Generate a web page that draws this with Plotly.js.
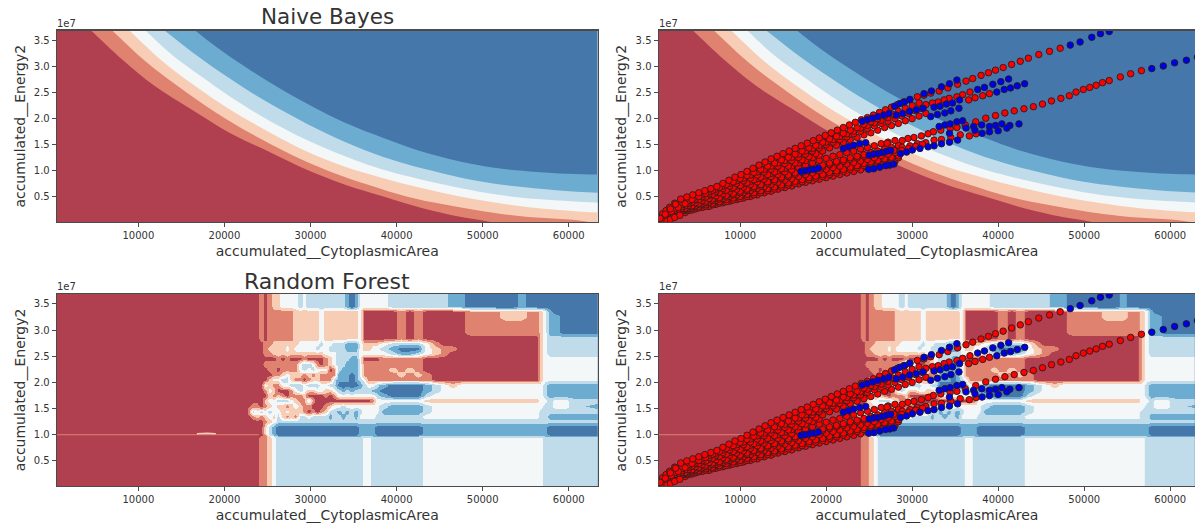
<!DOCTYPE html>
<html><head><meta charset="utf-8">
<script src="https://cdn.plot.ly/plotly-3.0.1.min.js"></script>
<style>html,body{margin:0;padding:0;background:#fff;overflow:hidden}</style>
</head><body><div id="chart" style="width:1195px;height:526px"></div>
<script>
const xTitle='accumulated__CytoplasmicArea', yTitle='accumulated__Energy2';
const xTicks=[10000,20000,30000,40000,50000,60000], yTicks=[0.5,1,1.5,2,2.5,3,3.5];
const bandColors=['#B03F50','#E08270','#F8CDB6','#F4F7F7','#C0DCEB','#6DACD1','#4577AB'];

// Naive Bayes band boundaries (y in units of 1e7)
const b1x=[14940,16670,19340,22450,26010,29570,34020,38470,42920,47360,51810,56260,59820,63500,70000,110000];
const b1y=[3.9,3.68,3.34,2.99,2.62,2.29,1.92,1.63,1.37,1.18,1.05,0.98,0.945,0.93,0.92,0.92];
const b2x=[11390,13110,16230,19790,23340,27350,31800,36240,40690,45140,49590,54030,58480,63500,70000,110000];
const b2y=[3.9,3.68,3.28,2.86,2.48,2.10,1.72,1.40,1.15,0.96,0.80,0.70,0.63,0.58,0.55,0.55];
const b3x=[9430,10890,14000,17120,20680,25120,29570,34020,38470,42920,47360,51810,56260,63500,70000,110000];
const b3y=[3.9,3.68,3.21,2.83,2.42,1.97,1.59,1.28,1.02,0.83,0.67,0.54,0.46,0.39,0.36,0.36];
const b4x=[7590,9020,12670,16230,20680,25120,29570,34020,38470,42920,47360,51810,56260,63500,70000,110000];
const b4y=[3.9,3.68,3.12,2.67,2.17,1.75,1.37,1.08,0.86,0.67,0.51,0.385,0.29,0.20,0.16,0.16];
const b5x=[5580,7020,10890,14450,18900,23340,27790,32240,36690,41140,45590,50030,54480,61820,66000,80000,110000];
const b5y=[3.9,3.68,3.09,2.64,2.13,1.69,1.31,0.99,0.735,0.51,0.354,0.226,0.13,0.036,-0.1,-0.4,-0.4];
const b6x=[3140,4570,8220,11780,16230,20680,25120,29570,34020,38470,42920,47360,50480,54000,60000,80000,110000];
const b6y=[3.9,3.68,3.12,2.64,2.17,1.72,1.37,1.02,0.735,0.51,0.29,0.12,0.036,-0.08,-0.3,-0.8,-0.8];

// Random Forest class-probability grid (top row first); digit = band index
const rfX=[550,22000,23000,23500,24000,24500,25000,25500,26000,26500,27000,27500,28000,28500,29000,29500,30000,30500,31000,31500,32000,32500,33000,33500,34000,34500,35000,35500,36000,36500,37000,37500,38000,39000,40000,41000,42000,43000,44000,45000,46000,47000,48000,49000,50000,51000,52000,53000,54000,55000,56000,56500,57000,57500,58000,59000,60000,61000,62000,66000];
const rfY=[3.8,3.6,3.5,3.4,3.3,3.2,3.1,3.0,2.9,2.8,2.7,2.6,2.5,2.4,2.3,2.2,2.1,2.0,1.9,1.8,1.7,1.6,1.5,1.4,1.3,1.2,1.1,1.05,1.0,0.97,0.9,-0.1];
const rfRows=[
'00 0010122333 3434444444 4456533333 344444445 566666656 6666 66666',
'00 0010122333 3434444444 4456533333 344444445 566666656 6666 66666',
'00 0010122333 3434444444 4456533333 344444445 566666656 6666 66666',
'00 0010111111 2222223222 2222230000 001010000 011112221 1235 66666',
'00 0010111111 2222223222 2222230000 001010000 011112221 1235 56666',
'00 0010111111 2222223222 2222230000 001010000 011111111 1235 56666',
'00 0010111111 2222223222 2222230000 001010000 011111111 1235 56666',
'00 0010111111 2222223222 2222230000 001010000 011111111 1235 56666',
'00 0010111111 2222223222 2222230000 001010000 000000000 0234 44444',
'00 0001122222 2333334334 4455532222 344443100 000000000 0234 44444',
'00 0001222232 3333343344 4455532233 456663211 000000000 0234 44444',
'00 0001122222 2222222333 4444433333 345543210 000000000 0234 44444',
'00 0000001010 0010000123 4445530000 111110000 000000000 0233 33333',
'00 0001111111 1344310123 4455531111 111110000 000000000 0233 33333',
'00 0000110111 1343433301 4555531111 121210000 000000000 0233 33333',
'00 0000011232 2212121111 5556531111 112121000 000000000 0233 33333',
'00 0000233442 1101221114 5556543111 111111000 000000000 0233 33333',
'00 0003211334 4434443344 6666654334 566665432 333333333 3345 55555',
'00 0001320001 3432233223 4545444455 666665433 333333333 3345 55555',
'00 0000212101 1120000101 3333333334 566664333 333333333 3345 55555',
'00 0002334443 2114100000 0000000013 333332222 222222222 2334 33444',
'00 1101232212 3211000123 3433333333 455554333 333333333 3344 33445',
'00 4343433232 2210101244 5454543333 555554333 333333333 3444 44444',
'00 1212324212 1443444454 4544533334 444443333 333333333 3445 55555',
'00 0001234444 4444444444 4444444444 444444444 444444444 4444 44444',
'00 0002456666 6666666666 6666655556 666665555 555555555 5556 66666',
'00 0002456666 6666666666 6666655556 666665555 555555555 5556 66666',
'00 0002456666 6666666666 6666655556 666665555 555555555 5556 66666',
'00 0000345555 5555555555 5555555555 555555555 555555555 5555 55555',
'00 0011234444 4444444444 4444443344 444443333 333333333 3344 44444',
'00 0011234444 4444444444 4444443344 444443333 333333333 3344 44444'
];
const speckX=[16800,18000,19000], speckY=[1.02,1.03,1.02];
const rfLineX=[550,24000], rfLineY=[1.0,1.0];

// Data points: fan strands (y in units of 1e7)
const fanXa=[800,1600,2400,3200,4000,4800,5600,6400,7200,8000,8800,9600,10400,11200,12000,12800,13600,14400,15200,16000,16800,17600,18400,19200,20000,20800,21600,22400,23200,24000,24800,25600,26400,27200,28000];
const fanXb=[1200,2000,2800,3600,4400,5200,6000,6800,7600,8400,9200,10000,10800,11600,12400,13200,14000,14800,15600,16400,17200,18000,18800,19600,20400,21200,22000,22800,23600,24400,25200,26000,26800,27600,28400];
const fanXc=[800,1600,2400,3200,4000,4800,5600,6400,7200,8000,8800,9600,10400,11200,12000,12800,13600,14400,15200,16000,16800,17600,18400,19200];
const t2y=[.14,.22,.30,.37,.45,.51,.57,.63,.68,.74,.79,.85,.91,.97,1.03,1.09,1.15,1.21,1.26,1.32,1.38,1.44,1.49,1.55,1.61,1.66,1.72,1.78,1.83,1.89,1.94,2.0,2.05,2.09,2.14];
const t3y=[.09,.16,.24,.31,.39,.46,.51,.56,.61,.66,.71,.76,.81,.86,.92,.98,1.03,1.09,1.14,1.2,1.26,1.32,1.38,1.44,1.50,1.55,1.6,1.65,1.71,1.76,1.81,1.86,1.91,1.95,2.0];
const t4y=[.12,.19,.26,.33,.40,.45,.5,.55,.59,.63,.68,.72,.77,.83,.88,.93,.98,1.04,1.09,1.15,1.21,1.27,1.33,1.38,1.44,1.49,1.54,1.59,1.64,1.69,1.73,1.78,1.83,1.87,1.91];
const t5y=[.08,.15,.21,.28,.34,.39,.43,.47,.52,.56,.61,.65,.69,.74,.79,.84,.89,.93,.98,1.02,1.07,1.11,1.15,1.20,1.24,1.28,1.31,1.35,1.38,1.42,1.45,1.48,1.52,1.55,1.58];
const t6y=[.10,.16,.22,.28,.33,.38,.42,.46,.49,.53,.57,.61,.65,.70,.74,.79,.83,.88,.92,.96,1.0,1.04,1.07,1.11,1.15,1.18,1.21,1.25,1.28,1.31,1.35,1.38,1.42,1.45,1.49];
const t7y=[.07,.13,.18,.24,.29,.33,.37,.40,.44,.47,.51,.54,.58,.62,.66,.7,.74,.78,.82,.85,.89,.93,.96,1.0,1.03,1.06,1.09,1.13,1.16,1.19,1.22,1.25,1.29,1.32,1.35];
const t8y=[.08,.13,.19,.24,.28,.32,.35,.38,.41,.45,.48,.51,.55,.58,.62,.66,.69,.73,.77,.8,.83,.87,.9,.93,.97,1.0,1.03,1.07,1.1,1.14,1.17,1.2,1.23,1.26,1.29];
const t9y=[.06,.1,.15,.2,.24,.27,.3,.32,.36,.39,.42,.45,.48,.51,.54,.58,.61,.65,.68,.71,.75,.78,.81,.84,.87,.9,.93,.96,.99,1.02,1.05,1.08,1.12,1.15,1.18];
const tAy=[.11,.19,.27,.35,.43,.50,.55,.60,.65,.71,.76,.81,.86,.92,.98,1.03,1.09,1.15,1.20,1.26,1.32,1.38,1.43,1.49,1.55,1.60,1.66,1.71,1.76,1.82,1.87,1.92,1.97,2.02,2.07];
const tBy=[.10,.18,.25,.32,.38,.44,.48,.53,.58,.62,.66,.71,.75,.8,.85,.9,.95,1.0,1.05,1.1,1.15,1.2,1.25,1.3];
const tCy=[.08,.14,.20,.26,.31,.36,.39,.43,.46,.5,.54,.58,.62,.67,.71,.76,.8,.85,.89,.93,.97,1.01,1.04,1.08,1.12,1.15,1.18,1.22,1.25,1.28,1.32,1.35,1.39,1.42,1.46];
const tDy=[.05,.1,.16,.2,.25,.29,.32,.35,.38,.41,.44,.47,.51,.54,.58,.62,.65,.69,.73,.76,.79,.83,.86,.89,.93,.96,.99,1.03,1.06,1.1,1.13,1.16,1.19,1.22,1.25];
const topEdgeX=[700,1300,1900,2500,3100,3800,4500,5200,5900,6600,7300,8000,8700,9400,10100,10800,11500,12200,12900,13600,14300,15000,15700,16400,17100,17800,18500,19200,19900,20600,21300,22000,22700,23400,24100,24800,25500,26200,26900,27600,28300,29000,29730,30600,31380,32160,33140,34150,35280,36260,37040,38010,38870,39690,40580,41560,42570,43510,44720,45970,47210];
const topEdgeY=[.09,.17,.27,.36,.46,.50,.54,.58,.62,.66,.70,.76,.82,.88,.93,.99,1.05,1.11,1.17,1.23,1.28,1.33,1.38,1.43,1.48,1.53,1.58,1.63,1.68,1.73,1.78,1.83,1.88,1.93,1.98,2.02,2.07,2.12,2.17,2.22,2.27,2.32,2.36,2.42,2.45,2.49,2.53,2.59,2.66,2.72,2.77,2.83,2.88,2.93,2.98,3.04,3.10,3.16,3.23,3.29,3.35];
const originX=[650,650,1100,1500,1900,2400,3000,1000,1400,1800,2400];
const originY=[.04,.12,.03,.04,.07,.11,.15,.18,.24,.30,.38];
const longRedX=[37390,38560,39690,40780,41870,43000,44090,45150,46200,47290,48270,49050,49900,50650,51390,52130,52910,54200,55400,56650];
const longRedY=[1.94,2.01,2.06,2.11,2.15,2.19,2.23,2.28,2.34,2.39,2.44,2.51,2.56,2.60,2.64,2.69,2.73,2.80,2.86,2.92];
const upperRedX=[38990,38200,37310,36570,36720,35870,35200,34300,33720,33020,32360,29200,30000,30800,31600,28800,29600,30400,31200,29200,30000,30800,31600];
const upperRedY=[2.48,2.44,2.40,2.36,2.51,2.46,2.42,2.39,2.36,2.32,2.30,2.20,2.25,2.30,2.27,2.05,2.10,2.15,2.19,1.96,2.00,2.05,2.10];
const lowerRedX=[37430,36650,36180,35200,34420,33330,32470,31850,31070,30210,29510,28850,35590,34500,33410,32550,31580,30600,29740,28850,27870,27090,28800,29600,30400,31200];
const lowerRedY=[1.71,1.67,1.88,1.83,1.81,1.78,1.75,1.71,1.67,1.64,1.62,1.58,1.69,1.64,1.60,1.59,1.54,1.52,1.48,1.45,1.39,1.53,1.39,1.43,1.47,1.51];
const blueX=[48380,49520,50880,51890,52910,57860,59190,60510,61880,63170,
43080,42220,41440,40700,39840,41210,40310,39380,38400,37620,
35510,34700,33990,33250,32550,32160,32940,33800,34500,35440,
35200,34340,33410,32240,31380,29740,29120,28570,27950,
42420,41360,41010,40430,39690,38990,40000,38990,38130,38090,37150,37310,
35870,35200,34420,33800,33140,36260,34340,35280,34340,33410,32550,31850,30910,30020,29350,28650,
27870,27400,26900,26230,25530,24950,
17100,17600,18100,18600,19100,25000,25500,26000,26500,27000,27500,
22000,22600,23200,23900,24600,24200,24800,25400,26000,26700,27300,28170,28900,29700,30500,31280];
const blueY=[3.41,3.47,3.56,3.63,3.67,2.96,3.01,3.07,3.12,3.18,
2.67,2.63,2.59,2.56,2.51,2.76,2.71,2.66,2.60,2.56,
2.36,2.30,2.28,2.24,2.22,2.04,2.08,2.11,2.15,2.20,
2.74,2.67,2.61,2.53,2.48,2.37,2.32,2.29,2.24,
1.90,1.87,1.82,1.90,1.87,1.85,1.77,1.75,1.72,1.88,1.85,1.78,
1.96,1.94,1.90,1.88,1.85,1.82,1.72,1.59,1.55,1.52,1.48,1.46,1.43,1.40,1.36,1.33,
1.13,1.11,1.10,1.07,1.04,1.03,
.99,1.00,1.02,1.03,1.05,1.30,1.32,1.33,1.35,1.37,1.39,
1.43,1.46,1.49,1.52,1.54,1.95,1.98,2.01,2.04,2.07,2.10,2.07,2.10,2.14,2.17,2.20];

const redX=[].concat(fanXa,fanXb,fanXb,fanXa,fanXb,fanXb,fanXa,fanXc,fanXb,fanXa,fanXa,fanXb,originX,topEdgeX,longRedX,upperRedX,lowerRedX);
const redY=[].concat(t9y,tDy,t8y,t7y,tCy,t6y,t5y,tBy,t4y,t3y,tAy,t2y,originY,topEdgeY,longRedY,upperRedY,lowerRedY);

const xRangeL=[550,63350], xRangeR=[550,62880], yRange=[0.02,3.69];
const bands=[[b1x,b1y,5],[b2x,b2y,4],[b3x,b3y,3],[b4x,b4y,2],[b5x,b5y,1],[b6x,b6y,0]];
const digits=rfRows.map(r=>r.replace(/ /g,'').split('').map(Number));
const zAsc=digits.slice().reverse();
const yAsc=rfY.slice().reverse();
const stepped=[];
bandColors.forEach((c,i)=>{stepped.push([i/7,c]);stepped.push([(i+1)/7,c]);});

const traces=[];
function nb(xa,ya){
  bands.forEach(([bx,by,c])=>{
    traces.push({type:'scatter',mode:'lines',xaxis:xa,yaxis:ya,hoverinfo:'skip',showlegend:false,
      x:[...bx,110000,-30000,-30000],y:[...by,-5,-5,by[0]],
      fill:'toself',fillcolor:bandColors[c],line:{width:0,shape:'spline',smoothing:1,color:bandColors[c]}});
  });
}
function rf(xa,ya){
  traces.push({type:'heatmap',xaxis:xa,yaxis:ya,x:rfX,y:yAsc,z:zAsc,zmin:-0.5,zmax:6.5,zsmooth:'best',
    colorscale:stepped,showscale:false,hoverinfo:'skip'});
  traces.push({type:'scatter',mode:'lines',xaxis:xa,yaxis:ya,x:rfLineX,y:rfLineY,hoverinfo:'skip',showlegend:false,
    line:{color:bandColors[1],width:1}});
  traces.push({type:'scatter',mode:'lines',xaxis:xa,yaxis:ya,x:speckX,y:speckY,hoverinfo:'skip',showlegend:false,
    line:{color:bandColors[2],width:1.5}});
}
function pts(xa,ya){
  traces.push({type:'scatter',mode:'markers',xaxis:xa,yaxis:ya,x:redX,y:redY,hoverinfo:'skip',showlegend:false,
    marker:{size:6.5,color:'#ff0000',line:{color:'#3a1c1c',width:1}}});
  traces.push({type:'scatter',mode:'markers',xaxis:xa,yaxis:ya,x:blueX,y:blueY,hoverinfo:'skip',showlegend:false,
    marker:{size:6.5,color:'#0000e6',line:{color:'#1c1c3a',width:1}}});
}
nb('x','y'); nb('x2','y2'); pts('x2','y2');
rf('x3','y3'); rf('x4','y4'); pts('x4','y4');

const W=1195,H=526;
const dx=(a,b)=>[a/W,b/W], dy=(top,bot)=>[(H-bot)/H,(H-top)/H];
const font={family:'DejaVu Sans, sans-serif'};
function xax(range,dom,anchor){return {domain:dom,range,anchor,tickmode:'array',tickvals:xTicks,ticktext:xTicks.map(String),
  showgrid:false,zeroline:false,showline:true,mirror:true,linecolor:'#4a4a4a',linewidth:1.3,ticks:'outside',ticklen:4,tickwidth:1,tickcolor:'#4a4a4a',
  tickfont:{...font,size:10,color:'#333'},title:{text:xTitle,standoff:6,font:{...font,size:14,color:'#333'}}};}
function yax(dom,anchor){return {domain:dom,range:yRange,anchor,tickmode:'array',tickvals:yTicks,ticktext:yTicks.map(v=>v.toFixed(1)),
  showgrid:false,zeroline:false,showline:true,mirror:true,linecolor:'#4a4a4a',linewidth:1.3,ticks:'outside',ticklen:4,tickwidth:1,tickcolor:'#4a4a4a',
  tickfont:{...font,size:10,color:'#333'},title:{text:yTitle,standoff:5,font:{...font,size:14,color:'#333'}}};}
const xL=dx(57,597.6), xR=dx(658.8,1195), yT=dy(30.5,222), yB=dy(294,486);
const layout={width:W,height:H,margin:{l:0,r:0,t:0,b:0},paper_bgcolor:'#fff',plot_bgcolor:bandColors[6],showlegend:false,font,
  xaxis:xax(xRangeL,xL,'y'),yaxis:yax(yT,'x'),
  xaxis2:xax(xRangeR,xR,'y2'),yaxis2:yax(yT,'x2'),
  xaxis3:xax(xRangeL,xL,'y3'),yaxis3:yax(yB,'x3'),
  xaxis4:xax(xRangeR,xR,'y4'),yaxis4:yax(yB,'x4'),
  annotations:[
   {text:'Naive Bayes',xref:'paper',yref:'paper',x:327/W,y:(H-16)/H,showarrow:false,xanchor:'center',yanchor:'middle',font:{...font,size:21.5,color:'#333'}},
   {text:'Random Forest',xref:'paper',yref:'paper',x:327/W,y:(H-281)/H,showarrow:false,xanchor:'center',yanchor:'middle',font:{...font,size:22,color:'#333'}},
   ...[[57,30.5],[658.8,30.5],[57,294],[658.8,294]].map(([a,b])=>({text:'1e7',xref:'paper',yref:'paper',x:a/W,y:(H-b+2)/H,showarrow:false,xanchor:'left',yanchor:'bottom',xshift:-2,yshift:-2,font:{...font,size:10,color:'#333'}}))
  ]};
Plotly.newPlot('chart',traces,layout,{staticPlot:true,displayModeBar:false});
</script></body></html>
